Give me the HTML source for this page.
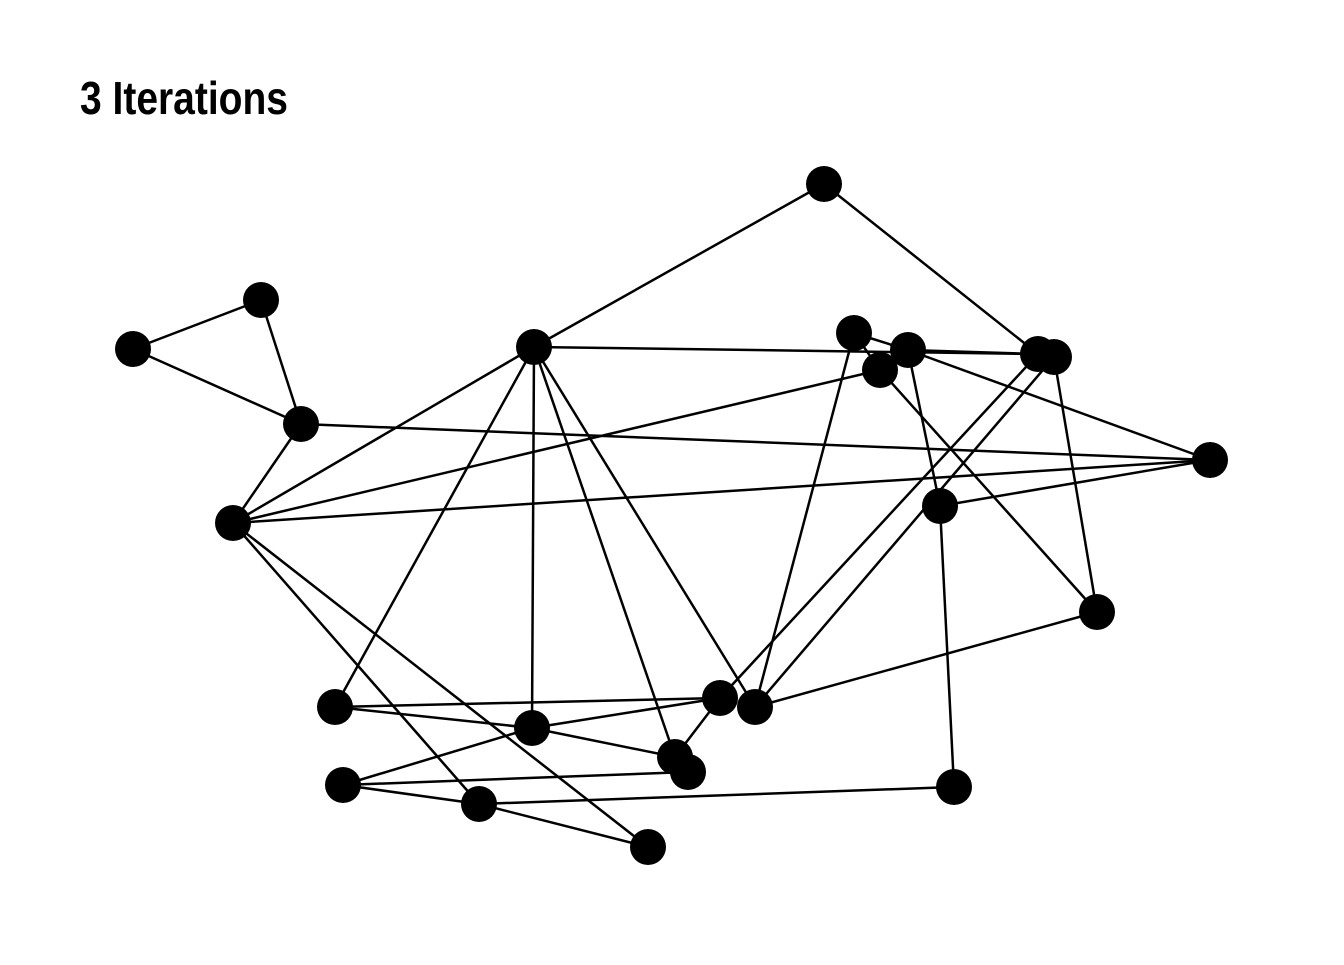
<!DOCTYPE html>
<html><head><meta charset="utf-8"><style>html,body{margin:0;padding:0;background:#fff}</style></head>
<body>
<svg width="1344" height="960" xmlns="http://www.w3.org/2000/svg">
<rect width="1344" height="960" fill="#fff"/>
<text x="80" y="114" font-family="'Liberation Sans Narrow','Liberation Sans',sans-serif" font-weight="bold" font-size="46" textLength="208" lengthAdjust="spacingAndGlyphs">3 Iterations</text>
<g stroke="#000" stroke-width="2.5">
<line x1="824" y1="184" x2="534" y2="347"/>
<line x1="824" y1="184" x2="1038" y2="354"/>
<line x1="133" y1="349" x2="261" y2="300"/>
<line x1="133" y1="349" x2="301" y2="424"/>
<line x1="261" y1="300" x2="301" y2="424"/>
<line x1="534" y1="347" x2="1038" y2="354"/>
<line x1="534" y1="347" x2="233" y2="523"/>
<line x1="534" y1="347" x2="335" y2="707"/>
<line x1="534" y1="347" x2="532" y2="728"/>
<line x1="534" y1="347" x2="675" y2="757"/>
<line x1="534" y1="347" x2="755" y2="707"/>
<line x1="301" y1="424" x2="1210" y2="460"/>
<line x1="301" y1="424" x2="233" y2="523"/>
<line x1="233" y1="523" x2="880" y2="370"/>
<line x1="233" y1="523" x2="1210" y2="460"/>
<line x1="233" y1="523" x2="479" y2="804"/>
<line x1="233" y1="523" x2="648" y2="847"/>
<line x1="854" y1="333" x2="908" y2="350"/>
<line x1="908" y1="350" x2="1038" y2="354"/>
<line x1="854" y1="333" x2="880" y2="370"/>
<line x1="854" y1="333" x2="755" y2="707"/>
<line x1="908" y1="350" x2="1210" y2="460"/>
<line x1="908" y1="350" x2="940" y2="506"/>
<line x1="880" y1="370" x2="1097" y2="612"/>
<line x1="1038" y1="354" x2="720" y2="698"/>
<line x1="1054" y1="357" x2="755" y2="707"/>
<line x1="1054" y1="357" x2="1097" y2="612"/>
<line x1="940" y1="506" x2="1210" y2="460"/>
<line x1="940" y1="506" x2="954" y2="787"/>
<line x1="1097" y1="612" x2="755" y2="707"/>
<line x1="335" y1="707" x2="720" y2="698"/>
<line x1="335" y1="707" x2="532" y2="728"/>
<line x1="532" y1="728" x2="720" y2="698"/>
<line x1="532" y1="728" x2="675" y2="757"/>
<line x1="720" y1="698" x2="675" y2="757"/>
<line x1="343" y1="785" x2="532" y2="728"/>
<line x1="343" y1="785" x2="688" y2="772"/>
<line x1="343" y1="785" x2="479" y2="804"/>
<line x1="479" y1="804" x2="954" y2="787"/>
<line x1="479" y1="804" x2="648" y2="847"/>
</g>
<g fill="#000">
<circle cx="824" cy="184" r="18"/><circle cx="261" cy="300" r="18"/><circle cx="133" cy="349" r="18"/>
<circle cx="534" cy="347" r="18"/><circle cx="854" cy="333" r="18"/><circle cx="880" cy="370" r="18"/>
<circle cx="908" cy="350" r="18"/><circle cx="1038" cy="354" r="18"/><circle cx="1054" cy="357" r="18"/>
<circle cx="301" cy="424" r="18"/><circle cx="1210" cy="460" r="18"/><circle cx="233" cy="523" r="18"/>
<circle cx="940" cy="506" r="18"/><circle cx="1097" cy="612" r="18"/><circle cx="335" cy="707" r="18"/>
<circle cx="720" cy="698" r="18"/><circle cx="755" cy="707" r="18"/><circle cx="532" cy="728" r="18"/>
<circle cx="675" cy="757" r="18"/><circle cx="688" cy="772" r="18"/><circle cx="343" cy="785" r="18"/>
<circle cx="479" cy="804" r="18"/><circle cx="954" cy="787" r="18"/><circle cx="648" cy="847" r="18"/>
</g>
</svg>
</body></html>
